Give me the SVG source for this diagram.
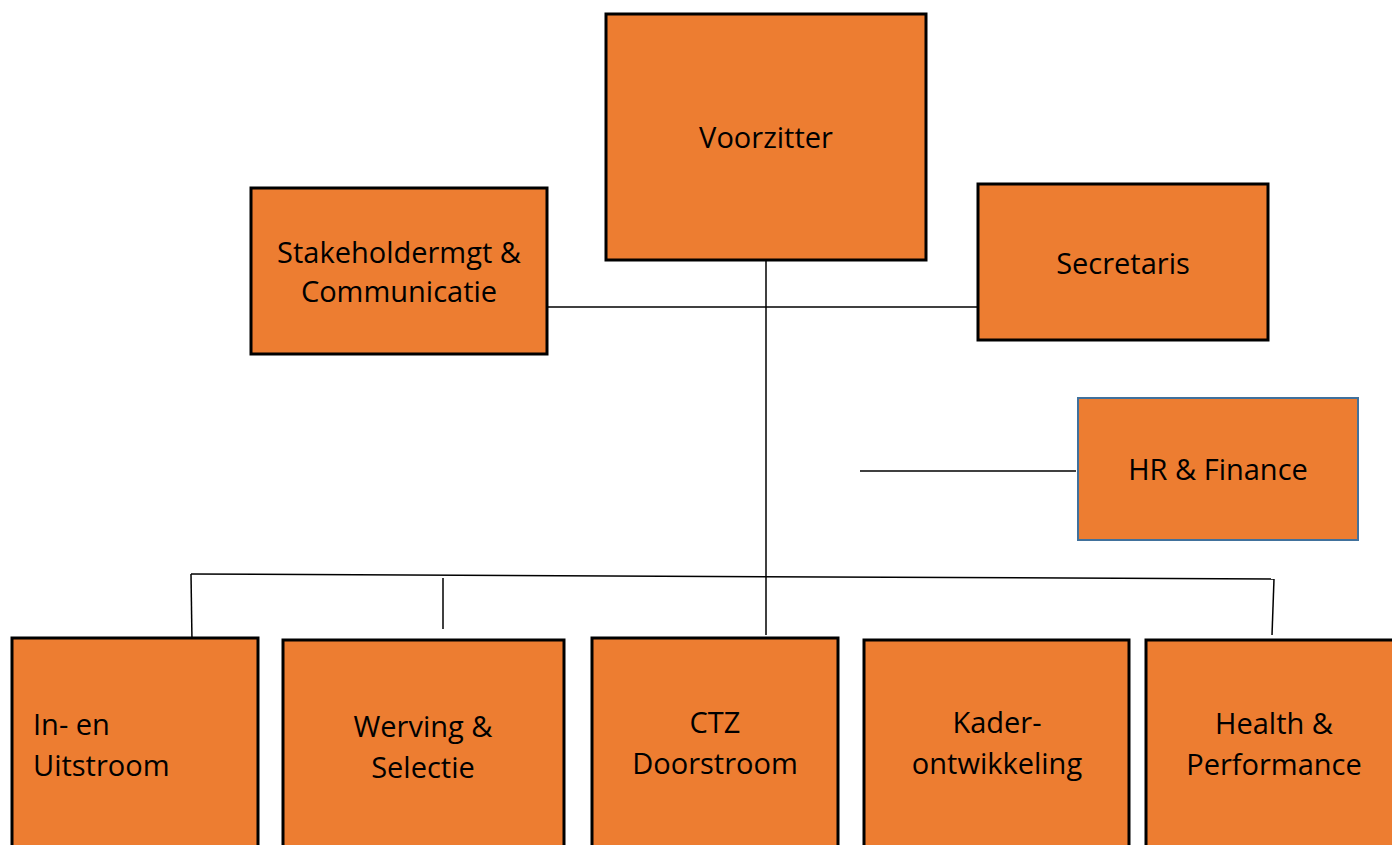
<svg xmlns="http://www.w3.org/2000/svg" width="1392" height="845" viewBox="0 0 1392 845">
<style>
.box{fill:#ED7D31;stroke:#000;stroke-width:3}
.hr{fill:#ED7D31;stroke:#41719C;stroke-width:2}
.t{font-family:"Open Sans","Noto Sans","Liberation Sans",sans-serif;font-size:29px;fill:#000}
.c{text-anchor:middle}
.ln{stroke:#000;stroke-width:1.5;fill:none}
</style>
<rect width="1392" height="845" fill="#fff"/>
<g id="connectors">
<line class="ln" x1="766" y1="260" x2="766" y2="635"/>
<line class="ln" x1="547" y1="307" x2="982" y2="307"/>
<line class="ln" x1="860" y1="471" x2="1076" y2="471"/>
<line class="ln" x1="191" y1="574" x2="1274" y2="579"/>
<line class="ln" x1="191" y1="574" x2="192" y2="642"/>
<line class="ln" x1="443" y1="578" x2="443" y2="629"/>
<line class="ln" x1="1274" y1="579" x2="1272" y2="635"/>
</g>
<g id="voorzitter"><rect class="box" x="606" y="14" width="320" height="246"/><text class="t c" x="766" y="148">Voorzitter</text></g>
<g id="stakeholder"><rect class="box" x="251" y="188" width="296" height="166"/><text class="t c" x="399" y="263">Stakeholdermgt &amp;</text><text class="t c" x="399" y="302">Communicatie</text></g>
<g id="secretaris"><rect class="box" x="978" y="184" width="290" height="156"/><text class="t c" x="1123" y="274">Secretaris</text></g>
<g id="hrfinance"><rect class="hr" x="1078" y="398" width="280" height="142"/><text class="t c" x="1218" y="480">HR &amp; Finance</text></g>
<g id="instroom"><rect class="box" x="12" y="638" width="246" height="220"/><text class="t" x="33" y="735">In- en</text><text class="t" x="33" y="776">Uitstroom</text></g>
<g id="werving"><rect class="box" x="283" y="640" width="281" height="220"/><text class="t c" x="423" y="737">Werving &amp;</text><text class="t c" x="423" y="778">Selectie</text></g>
<g id="ctz"><rect class="box" x="592" y="638" width="246" height="220"/><text class="t c" x="715" y="733">CTZ</text><text class="t c" x="715" y="774">Doorstroom</text></g>
<g id="kader"><rect class="box" x="864" y="640" width="265" height="220"/><text class="t c" x="997" y="733">Kader-</text><text class="t c" x="997" y="774">ontwikkeling</text></g>
<g id="health"><rect class="box" x="1146" y="640" width="260" height="220"/><text class="t c" x="1274" y="734">Health &amp;</text><text class="t c" x="1274" y="775">Performance</text></g>
</svg>
